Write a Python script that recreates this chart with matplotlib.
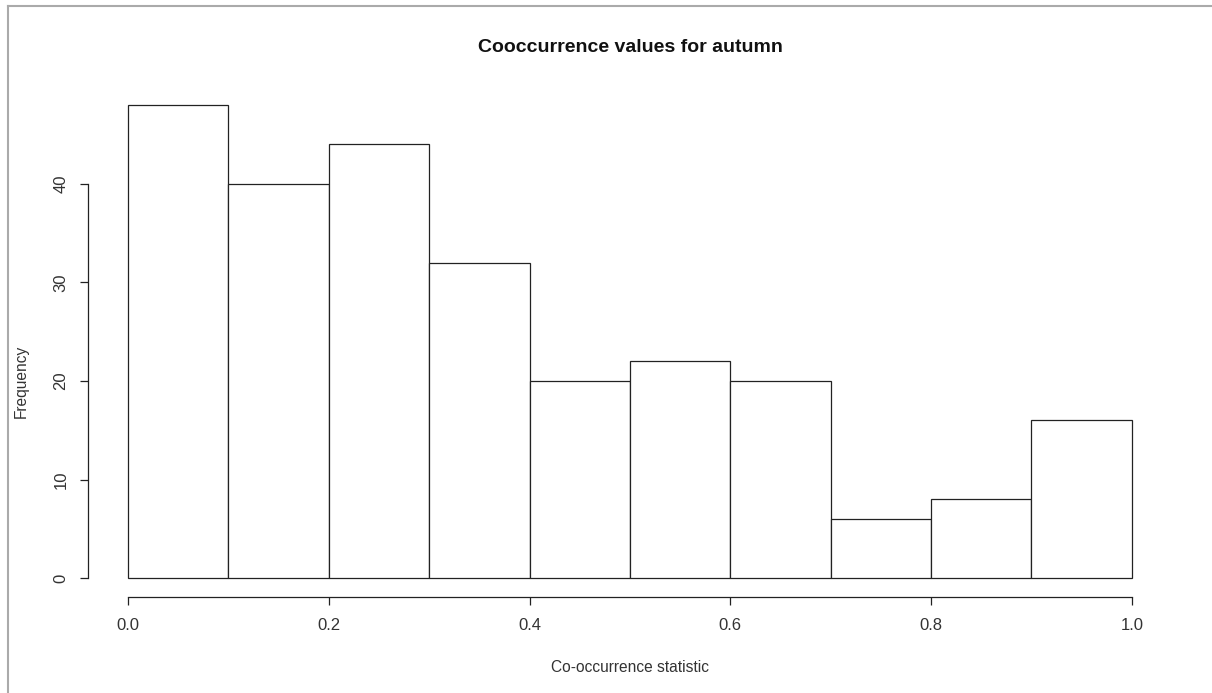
import matplotlib
matplotlib.use("Agg")
import matplotlib.pyplot as plt
from matplotlib.lines import Line2D

bin_edges = [0.0, 0.1, 0.2, 0.3, 0.4, 0.5, 0.6, 0.7, 0.8, 0.9, 1.0]
counts = [48, 40, 44, 32, 20, 22, 20, 6, 8, 16]
x_ticks = [0.0, 0.2, 0.4, 0.6, 0.8, 1.0]
x_tick_labels = ["0.0", "0.2", "0.4", "0.6", "0.8", "1.0"]
y_ticks = [0, 10, 20, 30, 40]
title = "Cooccurrence values for autumn"
xlabel = "Co-occurrence statistic"
ylabel = "Frequency"

plt.rcParams['font.family'] = ['Liberation Sans', 'DejaVu Sans']

W, H = 1212, 693
fig = plt.figure(figsize=(W / 100, H / 100), dpi=100)
ax = fig.add_axes([87.8 / W, (H - 597) / H, (1172 - 87.8) / W, (597 - 86) / H])

lw = 0.9
col = "#222222"
ax.hist(bin_edges[:-1], bins=bin_edges, weights=counts,
        facecolor="white", edgecolor=col, linewidth=lw)

ax.set_xlim(-0.04, 1.04)
ax.set_ylim(-1.92, 49.92)
for s in ["top", "right"]:
    ax.spines[s].set_visible(False)
ax.spines["left"].set_bounds(0, 40)
ax.spines["bottom"].set_bounds(0, 1)
for s in ["left", "bottom"]:
    ax.spines[s].set_linewidth(lw)
    ax.spines[s].set_color(col)

ax.set_xticks(x_ticks)
ax.set_xticklabels(x_tick_labels)
ax.set_yticks(y_ticks)
ax.set_yticklabels([str(v) for v in y_ticks], rotation=90, va="center")
ax.tick_params(axis="both", length=6, width=lw, color=col, labelsize=12,
               labelcolor="#333333")
ax.tick_params(axis="x", pad=9)
ax.tick_params(axis="y", pad=8)

fig.text((128 + 1132) / 2 / W, 1 - 48 / H, title, ha="center", va="center",
         fontsize=14, fontweight="bold", color="#111111")
fig.text((128 + 1132) / 2 / W, 1 - 667 / H, xlabel, ha="center", va="center",
         fontsize=11.2, color="#333333")
fig.text(21 / W, 1 - 381 / H, ylabel, ha="center", va="center",
         rotation=90, fontsize=11.2, color="#333333")

# grey frame on top and left
fig.add_artist(Line2D([8 / W, 8 / W], [0, 1 - 6 / H], transform=fig.transFigure,
                      color="#aaaaaa", linewidth=1.5))
fig.add_artist(Line2D([8 / W, 1], [1 - 6 / H, 1 - 6 / H], transform=fig.transFigure,
                      color="#aaaaaa", linewidth=1.5))

fig.savefig("out.png", dpi=100)
